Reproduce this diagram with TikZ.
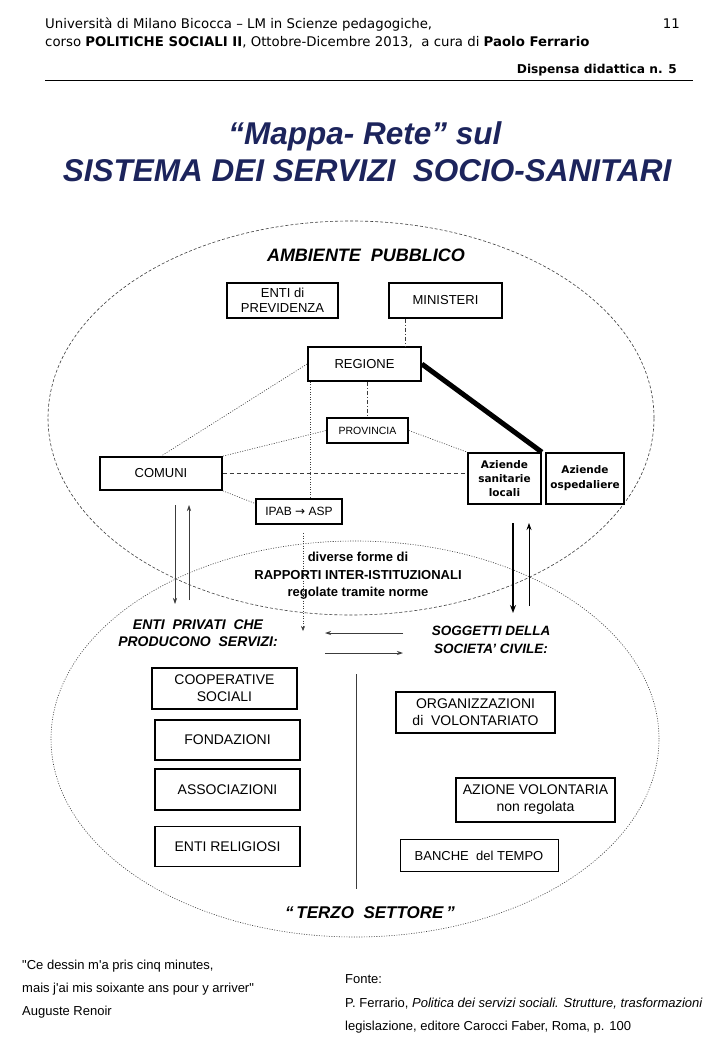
\documentclass[tikz,border=0pt]{standalone}
\usepackage{fontspec}
\setmainfont{Liberation Sans}
\newfontfamily\hdrfont{DejaVu Sans}
\newfontfamily\dvfont{DejaVu Sans}
\newfontfamily\ftrfont[Ligatures=TeXOff]{Liberation Sans}
\usetikzlibrary{arrows.meta,calc}
\definecolor{navy}{RGB}{28,36,92}
\definecolor{ln}{RGB}{60,60,60}
\begin{document}
\begin{tikzpicture}[x=1pt,y=-1pt,
  bx/.style={draw, line width=1.7pt, align=center, inner sep=1pt, font=\fontsize{13}{15}\selectfont},
  bxl/.style={bx, font=\fontsize{14}{17}\selectfont},
  dotl/.style={ln, line width=0.6pt, dash pattern=on 1pt off 1.5pt},
  dashl/.style={ln, line width=0.7pt, dash pattern=on 4pt off 3pt},
  dashdot/.style={ln, line width=0.7pt, dash pattern=on 4pt off 2pt on 1pt off 2pt},
  lbl/.style={align=center, inner sep=0pt},
  thinarr/.style={ln, line width=0.7pt, -{Stealth[length=6pt,width=4pt]}},
  hdr/.style={inner sep=0pt, font=\hdrfont\fontsize{13.3}{15}\selectfont},
  ftr/.style={anchor=base west, inner sep=0pt, font=\ftrfont\fontsize{13}{15}\selectfont},
]
\useasboundingbox[fill=white] (0,0) rectangle (720,1040);

% header
\node[hdr, anchor=base west] (h1) at (45,29) {Università di Milano Bicocca – LM in Scienze pedagogiche,};
\node[hdr, anchor=base west] (h2) at (45,47) {corso \textbf{POLITICHE SOCIALI II}, Ottobre-Dicembre 2013,\ \ a cura di \textbf{Paolo Ferrario}};
\node[hdr, anchor=base east] (pg) at (680,29) {11};
\node[hdr, anchor=base east, font=\hdrfont\bfseries\fontsize{12.2}{14}\selectfont] (disp) at (677,74) {Dispensa didattica n. 5};
\coordinate (hrl) at (45,81);
\coordinate (hrr) at (693,81);
\draw[line width=1pt] (hrl) -- (hrr);

% title
\node[anchor=base, inner sep=0pt, text=navy, font=\bfseries\itshape\fontsize{31.5}{34}\selectfont] (t1) at (365,145) {“Mappa- Rete” sul};
\node[anchor=base, inner sep=0pt, text=navy, font=\bfseries\itshape\fontsize{31.5}{34}\selectfont] (t2) at (367,182) {SISTEMA DEI SERVIZI\ \ SOCIO-SANITARI};

% ellipses
\draw[ln, line width=0.6pt, dash pattern=on 3pt off 2pt] (351,418) ellipse [x radius=303pt, y radius=197pt];
\draw[ln, line width=0.6pt, dash pattern=on 1pt off 1.5pt] (355,739) ellipse [x radius=304pt, y radius=198pt];

% labels
\node[lbl, font=\bfseries\itshape\fontsize{18}{20}\selectfont] (amb) at (366,255) {AMBIENTE\ \ PUBBLICO};

% boxes top
\node[bx, minimum width=111pt, minimum height=35pt] (prev) at (282.5,300.5) {ENTI di\\PREVIDENZA};
\node[bx, minimum width=113pt, minimum height=35pt] (min) at (445.5,300.5) {MINISTERI};
\node[bx, minimum width=113pt, minimum height=34pt] (reg) at (364.5,364) {REGIONE};
\node[bx, minimum width=81pt, minimum height=25pt, font=\fontsize{10.5}{12}\selectfont] (prov) at (367.5,430.5) {PROVINCIA};
\node[bx, minimum width=122pt, minimum height=33pt] (com) at (161,473.5) {COMUNI};
\node[bx, minimum width=86pt, minimum height=25pt, font=\fontsize{12}{14}\selectfont] (ipab) at (299,511.5) {IPAB {\dvfont→} ASP};
\node[bx, minimum width=73pt, minimum height=51pt, font=\dvfont\bfseries\fontsize{10.5}{14}\selectfont] (asl) at (504.5,478.5) {Aziende\\sanitarie\\locali};
\node[bx, minimum width=78pt, minimum height=51pt, font=\dvfont\bfseries\fontsize{10.5}{15}\selectfont] (aso) at (585,478.5) {Aziende\\ospedaliere};

% connectors top
\coordinate (m1) at ($(min.south west)!0.15!(min.south east)$);
\draw[dashdot] (m1) -- (m1 |- reg.north);
\draw[dashdot] (prov.north |- reg.south) -- (prov.north);
\draw[dotl] (reg.west) -- (com.north);
\draw[dotl] (com.north east) -- (prov.west);
\draw[dotl] (prov.east) -- (asl.north west);
\draw[dashl] (com.east) -- (com.east -| asl.west);
\coordinate (ipw) at ($(ipab.west)!0.6!(ipab.north west)$);
\draw[dotl] (com.south east) -- (ipw);
\coordinate (r1) at ([xshift=3pt]reg.south west);
\draw[dotl] (r1) -- (r1 |- ipab.north);
\draw[line width=5pt, line cap=butt] (reg.east) -- (asl.north east);

% vertical arrows
\coordinate (la1) at (175,505); \coordinate (la2) at (175,604);
\coordinate (lb1) at (189,600); \coordinate (lb2) at (189,505);
\draw[thinarr, line width=0.6pt] (la1) -- (la2);
\draw[thinarr, line width=0.6pt] (lb1) -- (lb2);
\coordinate (ra1) at (513,523); \coordinate (ra2) at (513,613);
\coordinate (rb1) at (529,606); \coordinate (rb2) at (529,523);
\draw[line width=1.5pt, -{Stealth[length=8pt,width=6pt]}] (ra1) -- (ra2);
\draw[line width=0.8pt, -{Stealth[length=7pt,width=5pt]}] (rb1) -- (rb2);
\coordinate (da1) at (303,533); \coordinate (da2) at (303,631);
\draw[dotl, -{Stealth[length=5pt,width=4pt]}] (da1) -- (da2);

% middle text
\node[lbl, font=\bfseries\fontsize{13}{17.5}\selectfont] (rap) at (358,576) {diverse forme di\\RAPPORTI INTER-ISTITUZIONALI\\regolate tramite norme};
\node[lbl, font=\bfseries\itshape\fontsize{14}{17.5}\selectfont] (epc) at (198,633) {ENTI\ \ PRIVATI\ \ CHE\\PRODUCONO\ \ SERVIZI:};
\node[lbl, font=\bfseries\itshape\fontsize{13.5}{17.5}\selectfont] (soc) at (491,640) {SOGGETTI DELLA\\SOCIETA’ CIVILE:};

% horizontal arrows
\coordinate (ha1) at (403,633); \coordinate (ha2) at (325,633);
\coordinate (hb1) at (325,653); \coordinate (hb2) at (403,653);
\draw[thinarr, line width=0.9pt] (ha1) -- (ha2);
\draw[thinarr, line width=0.9pt] (hb1) -- (hb2);

% divider
\coordinate (dv1) at (356,674); \coordinate (dv2) at (356,889);
\draw[ln, line width=0.7pt] (dv1) -- (dv2);

% bottom boxes
\node[bxl, minimum width=145pt, minimum height=41pt] (coop) at (224.5,688.5) {COOPERATIVE\\SOCIALI};
\node[bxl, minimum width=145pt, minimum height=40pt] (fond) at (227.5,740) {FONDAZIONI};
\node[bxl, minimum width=145pt, minimum height=41pt] (assoc) at (227.5,789.5) {ASSOCIAZIONI};
\node[bxl, minimum width=145pt, minimum height=40pt] (relig) at (227.5,846.5) {ENTI RELIGIOSI};
\node[bxl, minimum width=159pt, minimum height=41pt] (odv) at (475.5,712.5) {ORGANIZZAZIONI\\di\ \ VOLONTARIATO};
\node[bxl, minimum width=159pt, minimum height=44pt] (azv) at (535.5,800) {AZIONE VOLONTARIA\\non regolata};
\node[bx, line width=0.8pt, minimum width=158pt, minimum height=32pt] (banche) at (479,855.5) {BANCHE\ \ del TEMPO};

\node[lbl, font=\bfseries\itshape\fontsize{17}{19}\selectfont] (terzo) at (370,913) {“\,TERZO\ \ SETTORE\,”};

% footer
\node[ftr] (q1) at (22,969) {"Ce dessin m'a pris cinq minutes,};
\node[ftr] (q2) at (22,992) {mais j'ai mis soixante ans pour y arriver"};
\node[ftr] (q3) at (22,1015) {Auguste Renoir};
\node[ftr] (f1) at (345,983) {Fonte:};
\node[ftr] (f2) at (345,1007) {P. Ferrario, \textit{Politica dei servizi sociali. Strutture, trasformazioni}};
\node[ftr] (f3) at (345,1030) {legislazione, editore Carocci Faber, Roma, p. 100};
\end{tikzpicture}
\end{document}
